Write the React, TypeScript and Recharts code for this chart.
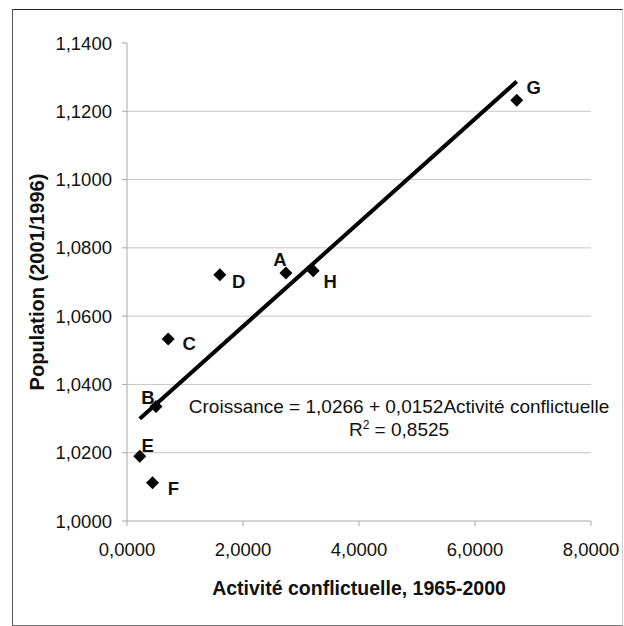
import React from "react";
import {
  CartesianGrid,
  ReferenceLine,
  Scatter,
  ScatterChart,
  XAxis,
  YAxis,
} from "recharts";

const REGIONS = ["A", "B", "C", "D", "E", "F", "G", "H"];
const ACTIVITY = [2.74, 0.5, 0.71, 1.6, 0.22, 0.44, 6.72, 3.21];
const GROWTH = [1.0726, 1.0335, 1.0533, 1.0721, 1.019, 1.0112, 1.1232, 1.0733];

const X_TICKS = [0, 2, 4, 6, 8];
const Y_TICKS = [1.0, 1.02, 1.04, 1.06, 1.08, 1.1, 1.12, 1.14];
const GRID_Y = [1.02, 1.04, 1.06, 1.08, 1.1, 1.12];

const INTERCEPT = 1.0266;
const SLOPE = 0.0152;
const R_SQUARED = "0,8525";

// where each letter sits relative to its marker
const LABEL_OFFSET: Record<string, [number, number]> = {
  A: [-6, -14],
  B: [-8, -9],
  C: [21, 4],
  D: [19, 7],
  E: [8, -11],
  F: [21, 6],
  G: [17, -13],
  H: [17, 11],
};

const FONT = "'Liberation Sans', Arial, sans-serif";

const data = REGIONS.map((name, i) => ({
  name,
  x: ACTIVITY[i],
  y: GROWTH[i],
}));

const xMin = Math.min(...ACTIVITY);
const xMax = Math.max(...ACTIVITY);

const fmt = (v: number) => v.toFixed(4).replace(".", ",");

function DiamondPoint(props: any) {
  const { cx, cy, payload } = props;
  if (cx == null || cy == null) return null;
  const s = 6.5;
  const [dx, dy] = LABEL_OFFSET[payload.name] ?? [10, 0];
  return (
    <g>
      <polygon
        points={`${cx},${cy - s} ${cx + s},${cy} ${cx},${cy + s} ${cx - s},${cy}`}
        fill="#000"
      />
      <text
        x={cx + dx}
        y={cy + dy}
        textAnchor="middle"
        dominantBaseline="central"
        fontFamily={FONT}
        fontWeight="bold"
        fontSize={18.5}
        fill="#111"
      >
        {payload.name}
      </text>
    </g>
  );
}

export default function App() {
  return (
    <div
      style={{
        position: "absolute",
        left: 0,
        top: 0,
        width: 624,
        height: 626,
        background: "#fff",
      }}
    >
      <div
        style={{
          position: "absolute",
          left: 12,
          top: 9,
          width: 609,
          height: 615,
          borderTop: "1px solid #222",
          borderLeft: "1px solid #555",
          borderBottom: "1px solid #777",
          borderRight: "1px solid #ccc",
        }}
      />
      <ScatterChart
        width={624}
        height={626}
        margin={{ top: 43, right: 33, bottom: 0, left: 0 }}
        style={{ position: "absolute", left: 0, top: 0, fontFamily: FONT }}
      >
        <CartesianGrid horizontal={false} vertical={false} />
        {GRID_Y.map((v) => (
          <ReferenceLine key={v} y={v} stroke="#c6c6c6" strokeWidth={1} />
        ))}
        <XAxis
          type="number"
          dataKey="x"
          domain={[0, 8]}
          ticks={X_TICKS}
          tickFormatter={fmt}
          height={105}
          stroke="#a8a8a8"
          tickSize={5}
          tickMargin={17}
          tick={{ fill: "#111", fontSize: 18.5 }}
          label={{
            content: ({ viewBox }: any) => (
              <text
                x={viewBox.x + viewBox.width / 2}
                y={588}
                textAnchor="middle"
                dominantBaseline="central"
                fontFamily={FONT}
                fontWeight="bold"
                fontSize={19.5}
                fill="#111"
              >
                Activité conflictuelle, 1965-2000
              </text>
            ),
          }}
        />
        <YAxis
          type="number"
          dataKey="y"
          domain={[1, 1.14]}
          ticks={Y_TICKS}
          tickFormatter={fmt}
          width={127}
          stroke="#a8a8a8"
          tickSize={5}
          tickMargin={10}
          tick={{ fill: "#111", fontSize: 18.5 }}
          label={{
            content: ({ viewBox }: any) => {
              const cx = 37;
              const cy = viewBox.y + viewBox.height / 2;
              return (
                <text
                  x={cx}
                  y={cy}
                  transform={`rotate(-90, ${cx}, ${cy})`}
                  textAnchor="middle"
                  dominantBaseline="central"
                  fontFamily={FONT}
                  fontWeight="bold"
                  fontSize={20}
                  fill="#111"
                >
                  Population (2001/1996)
                </text>
              );
            },
          }}
        />
        <ReferenceLine
          segment={[
            { x: xMin, y: INTERCEPT + SLOPE * xMin },
            { x: xMax, y: INTERCEPT + SLOPE * xMax },
          ]}
          stroke="#000"
          strokeWidth={4}
          ifOverflow="visible"
        />
        <Scatter
          data={data}
          dataKey="y"
          shape={<DiamondPoint />}
          isAnimationActive={false}
        />
      </ScatterChart>
      <div
        style={{
          position: "absolute",
          left: 180,
          width: 438,
          top: 395,
          textAlign: "center",
          fontFamily: FONT,
          fontSize: 19,
          lineHeight: "23px",
          color: "#111",
          whiteSpace: "nowrap",
        }}
      >
        <div>
          Croissance = {fmt(INTERCEPT)} + {fmt(SLOPE)}Activité conflictuelle
        </div>
        <div>
          R<sup style={{ fontSize: 12, verticalAlign: "7px", lineHeight: 0 }}>2</sup> ={" "}
          {R_SQUARED}
        </div>
      </div>
    </div>
  );
}
